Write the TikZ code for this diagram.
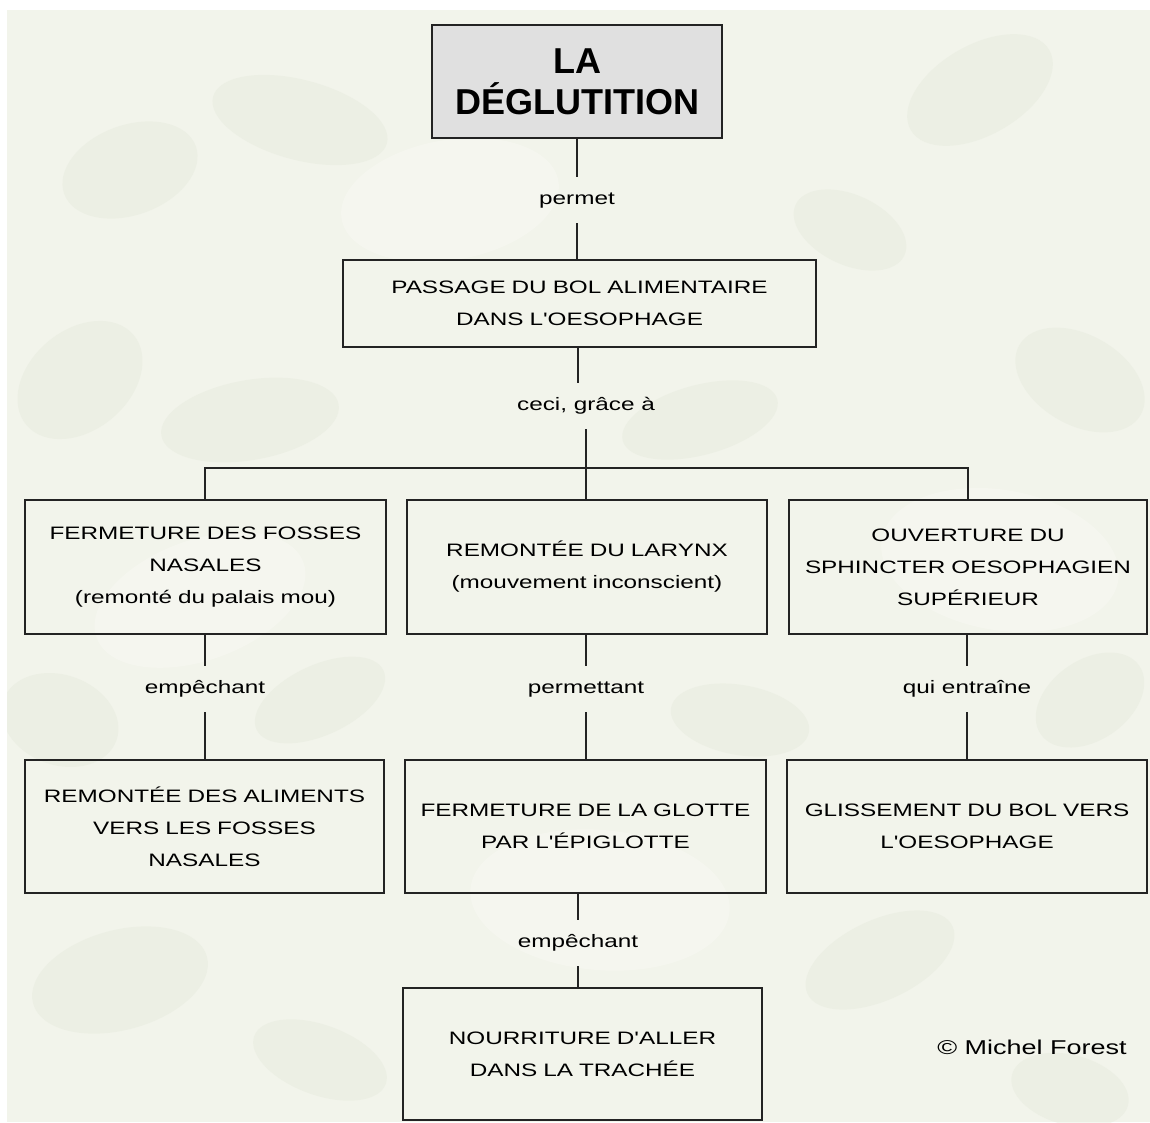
\documentclass[tikz,border=0pt]{standalone}
\usepackage{fontspec}
\setmainfont{Liberation Sans}
\newfontfamily\boxfont[FakeStretch=1.35]{Liberation Sans}
\definecolor{bgbase}{RGB}{242,244,235}
\definecolor{leaf}{RGB}{226,231,216}
\definecolor{leaflight}{RGB}{250,250,245}
\definecolor{boxline}{RGB}{35,35,35}
\definecolor{titlefill}{RGB}{224,224,224}
\tikzset{
  box/.style={draw=boxline, line width=2.5pt, inner xsep=0pt, inner ysep=0pt,
    align=center, font=\boxfont\fontsize{18}{32}\selectfont, text=black},
  titlebox/.style={draw=boxline, fill=titlefill, line width=2.5pt, align=center,
    font=\bfseries\fontsize{36}{41}\selectfont, text=black},
  lab/.style={inner xsep=2pt, inner ysep=0pt, text height=12pt, text depth=4pt,
    minimum height=46pt, font=\boxfont\fontsize{18}{22}\selectfont, text=black},
  conn/.style={draw=boxline, line width=2.2pt},
  blob/.style={fill=leaf, opacity=0.35},
  lblob/.style={fill=leaflight, opacity=0.45}
}
\begin{document}
\begin{tikzpicture}[x=1pt,y=-1pt]
\useasboundingbox (0,0) rectangle (1150,1122);
\fill[white] (0,0) rectangle (1150,1122);
\fill[bgbase] (7,10) rectangle (1150,1122);
% faint leaf pattern
\begin{scope}
\clip (7,10) rectangle (1150,1122);
\fill[blob] (130,170) ellipse[x radius=70pt, y radius=45pt, rotate=20];
\fill[blob] (300,120) ellipse[x radius=90pt, y radius=40pt, rotate=-15];
\fill[blob] (980,90) ellipse[x radius=80pt, y radius=45pt, rotate=30];
\fill[blob] (850,230) ellipse[x radius=60pt, y radius=35pt, rotate=-25];
\fill[blob] (80,380) ellipse[x radius=70pt, y radius=50pt, rotate=40];
\fill[blob] (250,420) ellipse[x radius=90pt, y radius=40pt, rotate=10];
\fill[blob] (1080,380) ellipse[x radius=70pt, y radius=45pt, rotate=-30];
\fill[blob] (700,420) ellipse[x radius=80pt, y radius=35pt, rotate=15];
\fill[blob] (60,720) ellipse[x radius=60pt, y radius=45pt, rotate=-20];
\fill[blob] (320,700) ellipse[x radius=70pt, y radius=35pt, rotate=25];
\fill[blob] (1090,700) ellipse[x radius=60pt, y radius=40pt, rotate=35];
\fill[blob] (740,720) ellipse[x radius=70pt, y radius=35pt, rotate=-10];
\fill[blob] (120,980) ellipse[x radius=90pt, y radius=50pt, rotate=15];
\fill[blob] (320,1060) ellipse[x radius=70pt, y radius=35pt, rotate=-20];
\fill[blob] (880,960) ellipse[x radius=80pt, y radius=40pt, rotate=25];
\fill[blob] (1070,1090) ellipse[x radius=60pt, y radius=35pt, rotate=-15];
\fill[lblob] (450,200) ellipse[x radius=110pt, y radius=60pt, rotate=10];
\fill[lblob] (1000,560) ellipse[x radius=120pt, y radius=70pt, rotate=-10];
\fill[lblob] (200,600) ellipse[x radius=110pt, y radius=60pt, rotate=20];
\fill[lblob] (600,900) ellipse[x radius=130pt, y radius=70pt, rotate=-5];
\end{scope}

% nodes
\node[titlebox, minimum width=290pt, minimum height=113pt] (t) at (577,81.5) {LA\\DÉGLUTITION};
\node[box, text width=473pt, minimum height=87pt] (p) at (579.5,303.5) {PASSAGE DU BOL ALIMENTAIRE\\DANS L'OESOPHAGE};

\node[box, text width=361pt, minimum height=134pt] (l3) at (205.5,567) {FERMETURE DES FOSSES\\NASALES\\(remonté du palais mou)};
\node[box, text width=360pt, minimum height=134pt] (m3) at (587,567) {REMONTÉE DU LARYNX\\(mouvement inconscient)};
\node[box, text width=358pt, minimum height=134pt] (r3) at (968,567) {OUVERTURE DU\\SPHINCTER OESOPHAGIEN\\SUPÉRIEUR};

\node[box, text width=359pt, minimum height=133pt] (l4) at (204.5,826.5) {REMONTÉE DES ALIMENTS\\VERS LES FOSSES\\NASALES};
\node[box, text width=361pt, minimum height=133pt] (m4) at (585.5,826.5) {FERMETURE DE LA GLOTTE\\PAR L'ÉPIGLOTTE};
\node[box, text width=360pt, minimum height=133pt] (r4) at (967,826.5) {GLISSEMENT DU BOL VERS\\L'OESOPHAGE};

\node[box, text width=359pt, minimum height=132pt] (b5) at (582.5,1054) {NOURRITURE D'ALLER\\DANS LA TRACHÉE};

% labels
\node[lab] (permet) at (577,200) {permet};
\node[lab] (ceci) at (586,406) {ceci, grâce à};
\node[lab] (e1) at (205,689) {empêchant};
\node[lab] (pt) at (586,689) {permettant};
\node[lab] (qe) at (967,689) {qui entraîne};
\node[lab] (e2) at (578,943) {empêchant};

\node[font=\boxfont\fontsize{20}{24}\selectfont, text=black] (copy) at (1032,1047) {© Michel Forest};

% connectors
\coordinate (jl) at (205,468);
\coordinate (jm) at (586,468);
\coordinate (jr) at (968,468);
\coordinate (pdown) at (578,0);
\draw[conn] (t.south) -- (permet.north);
\draw[conn] (permet.south) -- (permet.south |- p.north);
\draw[conn] (pdown |- p.south) -- (pdown |- ceci.north);
\draw[conn] (ceci.south) -- (jm) -- (jm |- m3.north);
\draw[conn] (jl |- l3.north) -- (jl) -- (jr) -- (jr |- r3.north);
\draw[conn] (l3.south -| e1) -- (e1.north);
\draw[conn] (e1.south) -- (e1.south |- l4.north);
\draw[conn] (m3.south -| pt) -- (pt.north);
\draw[conn] (pt.south) -- (pt.south |- m4.north);
\draw[conn] (r3.south -| qe) -- (qe.north);
\draw[conn] (qe.south) -- (qe.south |- r4.north);
\draw[conn] (m4.south -| e2) -- (e2.north);
\draw[conn] (e2.south) -- (e2.south |- b5.north);
\end{tikzpicture}
\end{document}
